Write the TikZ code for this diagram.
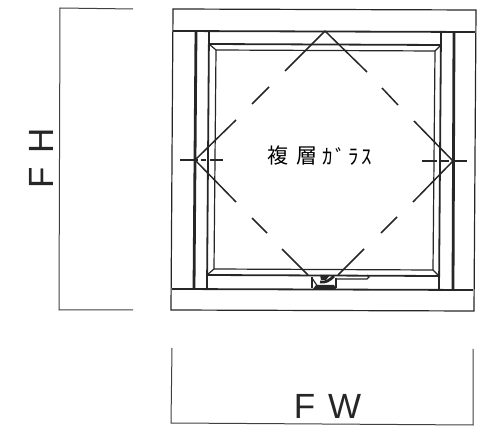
\documentclass[tikz,border=0pt]{standalone}
\usepackage{fontspec}
\setmainfont{Liberation Sans}
\newfontfamily\cjk{Noto Sans CJK JP}
\tikzset{
  thin line/.style={line width=1.2pt,draw=black!85},
  mid line/.style={line width=1.8pt,draw=black!85},
  heavy line/.style={line width=2.8pt,draw=black!85},
  dim line/.style={line width=1pt,draw=black!75},
  diag line/.style={line width=1.5pt,draw=black!85},
  dim text/.style={font=\fontsize{35}{35}\selectfont,text=black!85,inner sep=0pt},
  glass text/.style={font=\cjk\fontsize{21}{21}\selectfont,text=black,inner sep=0pt}
}
\begin{document}
\begin{tikzpicture}[x=1pt,y=-1pt]
\useasboundingbox (0,0) rectangle (493,438);
% outer frame
\draw[thin line] (173,9) -- (476,10) -- (474,311) -- (171,310) -- cycle;
\draw[mid line] (173,31) -- (475,32);
\draw[mid line] (172,289) -- (473,290);
% jambs
\draw[heavy line] (196,31) -- (194,289);
\draw[mid line] (209,31) -- (207,289);
\draw[mid line] (441,32) -- (439,290);
\draw[heavy line] (454,32) -- (453,290);
% sash
\draw[mid line] (209,44) -- (441,45);
\draw[mid line] (207,275) -- (439,276);
\draw[thin line] (216,50) -- (435,51) -- (433,270) -- (214,269) -- cycle;
\draw[thin line] (209,44) -- (216,50);
\draw[thin line] (441,45) -- (435,51);
\draw[thin line] (207,275) -- (214,269);
\draw[thin line] (439,276) -- (433,270);
% diamond
\coordinate (apexT) at (325,31);
\coordinate (apexL) at (195,160);
\coordinate (apexR) at (453,161);
\draw[diag line] (apexT) -- (285,71) (269,87) -- (252,104) (236,120) -- (apexL);
\draw[diag line] (apexT) -- (367,72) (382,88) -- (398,105) (414,121) -- (apexR);
\draw[diag line] (apexL) -- (236,202) (252,218) -- (267,233) (282,249) -- (308,275);
\draw[diag line] (apexR) -- (413,202) (397,217) -- (381,233) (364,249) -- (338,275);
% crosshair marks
\draw[thin line] (180,160) -- (198,160) (201,160) -- (206,160) (210,160) -- (223,160);
\draw[thin line] (422,161) -- (437,161) (441,161) -- (449,161) (455,161) -- (467,161);
% latch
\draw[mid line] (312,277) -- (312,288) (336,278) -- (336,288);
\draw[thin line] (312,278) -- (318,287);
\draw[thin line] (336,279) -- (367,279) -- (369,277) -- (367,275);
\draw[heavy line] (320,282) .. controls (326,283) and (330,280) .. (334,276);
\fill[black!85] (316,285) -- (334,285) -- (336,289) -- (313,289) -- cycle;
\fill[black!85] (320,275) -- (330,275) -- (326,280) -- (321,280) -- cycle;
% dimensions
\coordinate (fhA) at (133,9);
\coordinate (fhB) at (60,8);
\coordinate (fhC) at (59,310);
\coordinate (fhD) at (133,310);
\draw[dim line] (fhA) -- (fhB) -- (fhC) -- (fhD);
\coordinate (fwA) at (172,348);
\coordinate (fwB) at (171,423);
\coordinate (fwC) at (473,425);
\coordinate (fwD) at (473,349);
\draw[dim line] (fwA) -- (fwB) -- (fwC) -- (fwD);
\node[dim text,rotate=90] (fh) at (41.5,158.5) {F\hspace{4pt} H};
\node[dim text] (fw) at (327.5,406) {F\hspace{3pt} W};
% glass label
\node[glass text] (g1) at (278,156) {複};
\node[glass text] (g2) at (307,156) {層};
\node[glass text] (g3) at (328,157) {ｶ};
\node[glass text] (g3b) at (341,157) {ﾞ};
\node[glass text] (g4) at (354,157) {ﾗ};
\node[glass text] (g5) at (367,157) {ｽ};
\end{tikzpicture}
\end{document}
